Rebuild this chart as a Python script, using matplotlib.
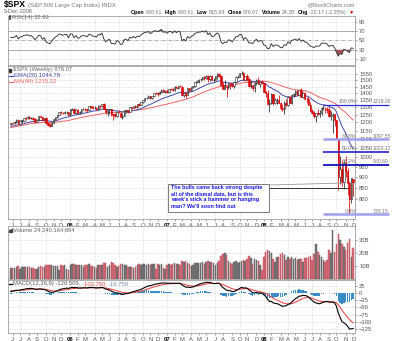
import numpy as np
import pandas as pd
import matplotlib
matplotlib.use("Agg")
import matplotlib.pyplot as plt
from matplotlib.lines import Line2D
from matplotlib.patches import Rectangle
from matplotlib.ticker import FuncFormatter, NullLocator
from matplotlib.transforms import blended_transform_factory

plt.rcParams['font.family'] = ['Liberation Sans', 'DejaVu Sans']

W, H = 400, 341

# Weekly S&P 500 bars, week ending Friday
first_friday = '2005-05-27'

# closes before the visible window, only used to warm up EMA / MA / RSI / MACD
warmup_closes = [1063.97, 1064.80, 1098.35, 1107.77, 1113.63, 1123.92, 1128.55,
                 1110.11, 1131.50, 1122.14, 1108.20, 1095.74, 1130.20, 1166.17,
                 1184.17, 1170.34, 1182.65, 1191.17, 1188.00, 1194.20, 1210.13,
                 1211.92, 1186.19, 1184.52, 1167.87, 1171.36, 1203.03, 1205.30,
                 1201.59, 1211.37, 1222.12, 1200.08, 1189.65, 1171.42, 1172.92,
                 1181.20, 1142.62, 1152.12, 1156.85, 1178.84, 1154.05, 1189.28]

opens = [
    # 2005
    1190, 1199, 1196, 1201, 1217, 1192, 1212, 1212, 1228, 1227, 1234, 1226,
    1230, 1220, 1205, 1218, 1241, 1238, 1215, 1229, 1196, 1187, 1180, 1198,
    1220, 1235, 1248, 1268, 1265, 1259, 1267, 1269,
    # 2006
    1248, 1285, 1288, 1261, 1284, 1264, 1267, 1287, 1289, 1287, 1281, 1307, 1303,
    1295, 1296, 1289, 1311, 1311, 1326, 1291, 1267, 1280, 1288, 1252, 1252, 1245,
    1270, 1265, 1236, 1240, 1279, 1279, 1267, 1302, 1295, 1311, 1299, 1320, 1315,
    1336, 1350, 1366, 1369, 1377, 1364, 1381, 1401, 1401, 1397, 1410, 1427, 1411,
    # 2007
    1418, 1410, 1431, 1430, 1422, 1448, 1438, 1455, 1451, 1387, 1403, 1387, 1436,
    1421, 1444, 1453, 1484, 1494, 1506, 1506, 1523, 1516, 1536, 1508, 1533, 1503,
    1503, 1530, 1552, 1534, 1459, 1433, 1454, 1446, 1479, 1474, 1454, 1484, 1526,
    1527, 1558, 1562, 1501, 1535, 1510, 1454, 1459, 1441, 1481, 1505, 1468, 1485,
    # 2008
    1479, 1412, 1401, 1325, 1331, 1395, 1331, 1350, 1353, 1331, 1293, 1288, 1330,
    1315, 1370, 1333, 1390, 1398, 1414, 1388, 1425, 1376, 1400, 1361, 1360, 1318,
    1278, 1263, 1240, 1261, 1258, 1260, 1296, 1298, 1292, 1283, 1242, 1252, 1255,
    1213, 1099, 899, 941, 877, 969, 931, 873, 800, 888.61]

highs = [
    1199, 1206, 1208, 1220, 1220, 1214, 1212, 1230, 1235, 1240, 1245, 1236,
    1233, 1226, 1222, 1244, 1243, 1238, 1232, 1233, 1200, 1197, 1200, 1223,
    1236, 1249, 1270, 1272, 1270, 1275, 1272, 1271,
    1288, 1295, 1294, 1286, 1287, 1275, 1291, 1293, 1298, 1290, 1310, 1311, 1310,
    1310, 1300, 1318, 1316, 1326, 1327, 1292, 1282, 1290, 1288, 1257, 1262, 1275,
    1281, 1271, 1261, 1280, 1285, 1283, 1303, 1304, 1312, 1314, 1322, 1329, 1340,
    1353, 1367, 1372, 1389, 1381, 1383, 1403, 1407, 1407, 1416, 1431, 1430, 1425,
    1430, 1433, 1441, 1440, 1452, 1453, 1457, 1461, 1457, 1410, 1409, 1438, 1438,
    1446, 1453, 1485, 1498, 1510, 1514, 1523, 1530, 1540, 1540, 1538, 1540, 1518,
    1532, 1556, 1555, 1540, 1488, 1504, 1456, 1482, 1482, 1481, 1486, 1530, 1538,
    1561, 1576, 1563, 1536, 1553, 1520, 1492, 1460, 1488, 1510, 1523, 1485, 1500,
    1479, 1418, 1428, 1355, 1405, 1396, 1368, 1363, 1389, 1336, 1322, 1341, 1360,
    1380, 1378, 1395, 1400, 1421, 1422, 1426, 1441, 1406, 1410, 1372, 1370, 1335,
    1291, 1273, 1263, 1290, 1284, 1300, 1313, 1301, 1304, 1304, 1274, 1265, 1255,
    1215, 1102, 1006, 985, 984, 1007, 942, 882, 897, 888.61]

lows = [
    1185, 1191, 1188, 1196, 1190, 1187, 1194, 1208, 1218, 1225, 1222, 1220,
    1215, 1201, 1201, 1217, 1227, 1210, 1212, 1191, 1176, 1169, 1175, 1198,
    1216, 1227, 1246, 1258, 1254, 1255, 1258, 1248,
    1246, 1280, 1260, 1255, 1262, 1253, 1260, 1281, 1276, 1268, 1280, 1298, 1291,
    1290, 1280, 1285, 1295, 1300, 1290, 1255, 1245, 1256, 1245, 1219, 1238, 1237,
    1262, 1235, 1225, 1240, 1265, 1261, 1266, 1290, 1293, 1294, 1297, 1311, 1314,
    1327, 1344, 1360, 1366, 1360, 1360, 1379, 1392, 1377, 1396, 1405, 1408, 1405,
    1405, 1399, 1426, 1416, 1420, 1437, 1431, 1447, 1383, 1374, 1364, 1386, 1413,
    1416, 1436, 1448, 1477, 1482, 1491, 1498, 1500, 1513, 1487, 1492, 1500, 1484,
    1503, 1506, 1529, 1458, 1433, 1429, 1370, 1432, 1432, 1450, 1439, 1477, 1516,
    1527, 1546, 1500, 1490, 1490, 1451, 1437, 1420, 1406, 1460, 1467, 1446, 1475,
    1411, 1372, 1313, 1270, 1320, 1317, 1320, 1325, 1330, 1284, 1274, 1257, 1312,
    1312, 1330, 1325, 1370, 1379, 1384, 1387, 1373, 1364, 1358, 1327, 1317, 1275,
    1257, 1228, 1200, 1248, 1234, 1248, 1280, 1264, 1262, 1236, 1215, 1134, 1180,
    1097, 839, 866, 858, 845, 899, 818, 741, 785, 815.69]

closes = [
    1198.8, 1196.0, 1200.9, 1216.9, 1191.6, 1211.9, 1211.9, 1227.9, 1227.0,
    1234.2, 1226.4, 1230.4, 1219.7, 1205.1, 1218.0, 1241.5, 1237.9, 1215.3,
    1228.8, 1195.9, 1186.6, 1179.6, 1198.4, 1220.1, 1234.7, 1248.3, 1268.3,
    1265.1, 1259.4, 1267.3, 1268.7, 1248.3,
    1285.5, 1287.6, 1261.5, 1283.7, 1264.0, 1266.9, 1287.2, 1289.4, 1287.2,
    1281.4, 1307.3, 1302.9, 1294.9, 1295.5, 1289.1, 1311.3, 1310.6, 1325.8,
    1291.2, 1267.0, 1280.2, 1288.2, 1252.3, 1251.5, 1244.5, 1270.2, 1265.5,
    1236.2, 1240.3, 1278.6, 1279.4, 1266.7, 1302.3, 1295.1, 1311.0, 1298.9,
    1319.7, 1314.8, 1335.9, 1349.6, 1365.6, 1368.6, 1377.3, 1364.3, 1380.9,
    1401.2, 1400.9, 1396.7, 1409.8, 1427.1, 1410.8, 1418.3,
    1409.7, 1430.7, 1430.5, 1422.2, 1448.4, 1438.1, 1455.5, 1451.2, 1387.2,
    1402.8, 1386.9, 1436.1, 1420.9, 1443.8, 1452.9, 1484.4, 1494.1, 1505.6,
    1505.9, 1522.8, 1515.7, 1536.3, 1507.7, 1532.9, 1502.6, 1503.4, 1530.4,
    1552.5, 1534.1, 1458.9, 1433.1, 1453.6, 1445.9, 1479.4, 1473.9, 1453.6,
    1484.3, 1525.8, 1526.8, 1557.6, 1561.8, 1500.6, 1535.3, 1509.7, 1453.7,
    1458.7, 1440.7, 1481.1, 1504.7, 1467.9, 1484.5, 1478.5,
    1411.6, 1401.0, 1325.2, 1330.6, 1395.4, 1331.3, 1349.9, 1353.1, 1330.6,
    1293.4, 1288.1, 1329.5, 1315.2, 1370.4, 1332.8, 1390.3, 1397.8, 1413.9,
    1388.3, 1425.4, 1375.9, 1400.4, 1360.7, 1360.0, 1317.9, 1278.4, 1262.9,
    1239.5, 1260.7, 1257.8, 1260.3, 1296.3, 1298.2, 1292.2, 1282.8, 1242.3,
    1251.7, 1255.1, 1213.3, 1099.2, 899.2, 940.6, 876.8, 968.8, 931.0, 873.3,
    800.0, 896.2, 876.07]

# weekly volume, billions of shares
volumes_bn = [
    8.2, 8.5, 8.8, 9.6, 9.8, 8.0, 8.9, 9.2, 9.4, 9.0, 9.3, 8.8, 8.5, 8.0,
    7.8, 9.4, 10.2, 9.6, 9.5, 10.8, 10.4, 11.0, 10.6, 10.2, 9.8, 10.0, 7.2,
    10.5, 10.3, 10.9, 7.5, 6.8,
    10.8, 11.2, 11.5, 10.9, 11.0, 10.8, 10.5, 9.4, 10.6, 10.9, 11.8, 10.2,
    10.0, 9.6, 8.8, 10.6, 10.4, 11.0, 12.6, 12.0, 9.2, 10.8, 12.8, 12.2,
    10.6, 9.4, 9.8, 11.2, 11.4, 10.8, 10.4, 9.6, 9.2, 9.0, 8.6, 9.6, 10.8,
    11.4, 10.9, 11.2, 11.6, 11.0, 11.4, 10.8, 11.2, 11.6, 8.0, 11.2, 11.0,
    11.6, 8.2, 7.4,
    10.6, 11.4, 11.0, 11.4, 12.0, 11.2, 11.6, 11.0, 14.2, 12.8, 13.6, 12.0,
    11.2, 9.8, 10.8, 12.0, 12.4, 12.2, 12.6, 12.8, 11.4, 13.0, 14.2, 13.2,
    12.8, 12.4, 10.8, 12.6, 13.6, 17.6, 19.0, 20.4, 18.8, 13.8, 12.2, 11.8,
    12.8, 13.6, 12.4, 13.0, 13.6, 15.0, 13.8, 15.6, 17.8, 16.4, 11.8, 15.2,
    14.4, 13.6, 10.6, 6.8,
    16.8, 20.6, 22.0, 21.4, 19.8, 15.6, 13.2, 16.8, 17.0, 19.0, 20.2, 18.4,
    15.0, 16.6, 15.2, 16.8, 15.4, 15.8, 14.8, 15.6, 15.2, 12.8, 16.2, 15.8,
    17.2, 17.8, 14.6, 19.4, 26.8, 20.6, 18.4, 17.2, 15.0, 13.2, 14.6, 22.0,
    20.0, 38.0, 21.0, 27.0, 35.0, 30.0, 27.0, 25.0, 22.0, 28.0, 31.0, 17.0,
    24.24]

fib_pcts = ['100.0%', '61.8%', '50.0%', '38.2%', '0.0%']
fib_values = [1319.09, 1097.55, 1029.12, 960.69, 739.15]

price_ticks = list(range(800, 1551, 50))
rsi_ticks = [10, 30, 50, 70, 90]
vol_ticks = [10, 20, 30]
macd_ticks = [25, 0, -25, -50, -75, -100, -125]

header_stats = [('Open', '888.61'), ('High', '888.61'), ('Low', '815.69'),
                ('Close', '876.07'), ('Volume', '24.2B'), ('Chg', '-20.17 (-2.25%)')]
ema_label = 'EMA(20) 1044.78'
ma_label = 'MA(40) 1215.22'
rsi_label = 'RSI(14) 32.93'
vol_label = 'Volume 24,240,164,864'
macd_parts = [('MACD(12,26,9) -120.509,', '#555555'), ('-103.750,', '#ee4444'),
              ('-16.759', '#7a8fb0')]
note = ("The bulls came back strong despite\n"
        "all of the dismal data, but is this\n"
        "week's stick a hammer or hanging\n"
        "man? We'll soon find out")

# ---- indicators ----
n = len(closes)
n0 = len(warmup_closes)
all_close = pd.Series(warmup_closes + closes, dtype=float)
ema20 = all_close.ewm(span=20, adjust=False).mean().values[n0:]
ma40 = all_close.rolling(40).mean().values[n0:]
macd = all_close.ewm(span=12, adjust=False).mean() - all_close.ewm(span=26, adjust=False).mean()
signal = macd.ewm(span=9, adjust=False).mean()
hist = (macd - signal).values[n0:]
macd = macd.values[n0:]
signal = signal.values[n0:]
delta = all_close.diff().fillna(0)
gain = delta.clip(lower=0).ewm(alpha=1 / 14, adjust=False).mean()
loss = (-delta.clip(upper=0)).ewm(alpha=1 / 14, adjust=False).mean()
rsi = (100 - 100 / (1 + gain / loss)).values[n0:]

o = np.array(opens, float)
hi = np.array(highs, float)
lo = np.array(lows, float)
c = np.array(closes, float)
prev = np.array([warmup_closes[-1]] + closes[:-1])
down = c < prev
x = np.arange(n)

dates = pd.date_range(first_friday, periods=n, freq='W-FRI')
month_idx = [i for i in range(1, n) if dates[i].month != dates[i - 1].month]
month_lbl = ['%02d' % (dates[i].year % 100) if dates[i].month == 1
             else 'JFMAMJJASOND'[dates[i].month - 1] for i in month_idx]
quarter_idx = [i for i in month_idx if dates[i].month in (1, 4, 7, 10)]

# ---- layout (pixel based) ----
fig = plt.figure(figsize=(W / 100, H / 100), dpi=100)
L, R = 8, 355


def panel(top, bottom):
    return fig.add_axes([L / W, 1 - bottom / H, (R - L) / W, (bottom - top) / H])


def fxy(px, py):
    return px / W, 1 - py / H


GRID = dict(color='#cdcdcd', lw=0.5, ls=(0, (1, 1.5)))


def style(ax, show_x):
    for s in ax.spines.values():
        s.set_color('#a0a0a0')
        s.set_linewidth(0.6)
    ax.yaxis.tick_right()
    ax.set_xlim(-1.5, n)
    ax.set_xticks(month_idx)
    ax.tick_params(axis='both', labelsize=4.2, colors='#555555', length=1.5,
                   width=0.4, pad=1.5)
    if show_x:
        ax.set_xticklabels(month_lbl)
        for t in ax.get_xticklabels():
            if t.get_text().isdigit():
                t.set_fontweight('bold')
                t.set_color('black')
    else:
        ax.tick_params(axis='x', length=0, labelbottom=False)
    for i in quarter_idx:
        ax.axvline(i, zorder=0, **GRID)
    ax.yaxis.grid(True, zorder=0, **GRID)
    ax.set_axisbelow(True)


ax_rsi = panel(15.5, 65)
ax_px = panel(66, 219)
ax_vol = panel(226, 279)
ax_macd = panel(280, 333)

# RSI
style(ax_rsi, False)
ax_rsi.set_ylim(-3, 104)
ax_rsi.set_yticks(rsi_ticks)
ax_rsi.yaxis.grid(False)
for lvl in (10, 90):
    ax_rsi.axhline(lvl, zorder=0, **GRID)
for lvl in (30, 70):
    ax_rsi.axhline(lvl, color='#a0a0a0', lw=0.6, zorder=1)
ax_rsi.axhline(50, color='#a0a0a0', lw=0.6, ls=(0, (4, 1.5, 1, 1.5)), zorder=1)
ax_rsi.fill_between(x, rsi, 30, where=rsi < 30, interpolate=True, color='#a65454', lw=0, zorder=2)
ax_rsi.fill_between(x, rsi, 70, where=rsi > 70, interpolate=True, color='#a65454', lw=0, zorder=2)
ax_rsi.plot(x, rsi, color='#333333', lw=0.65, zorder=3)

# price candles on a log scale
style(ax_px, True)
ax_px.set_yscale('log')
ax_px.set_ylim(721, 1617)
ax_px.set_yticks(price_ticks)
ax_px.yaxis.set_minor_locator(NullLocator())
ax_px.yaxis.set_major_formatter(FuncFormatter(lambda v, p: '%d' % v))
ax_px.xaxis.set_minor_locator(NullLocator())
edge = np.where(down, '#dd0000', '#222222')
face = np.where(c < o, edge, 'white')
ax_px.vlines(x, lo, hi, colors=edge, lw=0.55, zorder=3)
body_lo = np.minimum(o, c)
body_h = np.maximum(np.abs(c - o), 1.5)
ax_px.bar(x, body_h, bottom=body_lo, width=0.78, color=face, edgecolor=edge,
          linewidth=0.4, zorder=4)
ax_px.plot(x, ma40, color='#f06464', lw=0.7, zorder=2)
ax_px.plot(x, ema20, color='#4646a8', lw=0.7, zorder=2)

# Fibonacci levels drawn past the right edge
trans = blended_transform_factory(ax_px.transAxes, ax_px.transData)
fx0, fx1 = (323 - L) / (R - L), (389 - L) / (R - L)
fx_pct = (356.5 - L) / (R - L)
fx_val = (373 - L) / (R - L)
fib_style = [('#2a2ae0', 0.9), ('#a0a0ee', 1.8), ('#1010c8', 1.1), ('#0000b8', 1.2),
             ('#a0a0ee', 1.8)]
for pct, val, (col, lw) in zip(fib_pcts, fib_values, fib_style):
    ax_px.plot([fx0, fx1], [val, val], transform=trans, color=col, lw=lw,
               clip_on=False, solid_capstyle='butt', zorder=5)
    ax_px.text(fx_pct, val * 1.004, pct, transform=trans, ha='right', va='bottom',
               fontsize=3.7, color='#777777', clip_on=False, zorder=6)
    ax_px.text(fx_val, val * 1.004, '%.2f' % val, transform=trans, ha='left',
               va='bottom', fontsize=3.7, color='#777777', clip_on=False, zorder=6)

# volume
style(ax_vol, False)
vols = np.array(volumes_bn)
ax_vol.bar(x, vols, width=0.8, color=np.where(down, '#d9707c', '#7a7a7a'),
           edgecolor=np.where(down, '#b84050', '#555555'), linewidth=0.3, zorder=3)
ax_vol.set_ylim(0, 40.8)
ax_vol.set_yticks(vol_ticks)
ax_vol.yaxis.set_major_formatter(FuncFormatter(lambda v, p: '%dB' % v))

# MACD
style(ax_macd, True)
ax_macd.bar(x, hist, width=0.8, color='#3a8cc7', zorder=2)
ax_macd.plot(x, signal, color='#ee3a3a', lw=0.7, zorder=3)
ax_macd.plot(x, macd, color='black', lw=0.8, zorder=4)
ax_macd.set_ylim(-139, 45)
ax_macd.set_yticks(macd_ticks)

# ---- texts ----
renderer = fig.canvas.get_renderer()


def run(px, py, pieces, size=4.2):
    for s, col, wt, gap in pieces:
        t = fig.text(*fxy(px, py), s, fontsize=size, color=col, fontweight=wt,
                     ha='left', va='center')
        px += t.get_window_extent(renderer).width + gap
    return px


t = fig.text(*fxy(4, 5), '$SPX', fontsize=6.2, fontweight='bold', color='black',
             va='center')
run(4 + t.get_window_extent(renderer).width + 2, 5.3,
    [('(S&P 500 Large Cap Index) INDX', '#777777', 'normal', 0)])
fig.text(*fxy(4, 11.5), '5-Dec-2008', fontsize=4.0, color='#666666', va='center')
fig.text(*fxy(355, 4.5), '@StockCharts.com', fontsize=4.0, color='#777777',
         ha='right', va='center')
pieces = []
for k, v in header_stats:
    pieces += [(k, 'black', 'bold', 1.2), (v, '#777777', 'normal', 2.5)]
pieces.append(('\u25bc', '#cc0000', 'normal', 0))
run(131, 12.5, pieces, size=3.75)

# panel legends
fig.add_artist(Line2D([9.5 / W, 9.5 / W], [1 - 18.5 / H, 1 - 15.5 / H], color='#333333', lw=1.2))
run(12, 17, [(rsi_label, '#666666', 'normal', 0)])

fig.add_artist(Rectangle(fxy(9, 71.5), 2 / W, 3 / H, color='#333333'))
run(13, 70, [('$SPX (Weekly) 876.07', '#666666', 'normal', 0)])
fig.add_artist(Line2D([9 / W, 13 / W], [1 - 76 / H] * 2, color='#4646a8', lw=0.8))
run(14, 76, [(ema_label, '#4646a8', 'normal', 0)])
fig.add_artist(Line2D([9 / W, 13 / W], [1 - 82 / H] * 2, color='#f06464', lw=0.8))
run(14, 82, [(ma_label, '#f06464', 'normal', 0)])

fig.add_artist(Rectangle(fxy(9, 232), 1 / W, 2.5 / H, color='#444444'))
fig.add_artist(Rectangle(fxy(10.5, 232), 1 / W, 3.5 / H, color='#444444'))
run(13, 230, [(vol_label, '#666666', 'normal', 0)])

fig.add_artist(Line2D([9 / W, 12 / W], [1 - 284 / H] * 2, color='black', lw=0.9))
run(13, 284, [(s, col, 'normal', 2) for s, col in macd_parts])

# callout box and its pointer
fig.add_artist(Rectangle(fxy(168, 212), 101 / W, 28 / H, facecolor='white',
                         edgecolor='#666666', lw=0.6, zorder=8))
fig.text(*fxy(171, 185.5), note, fontsize=3.9, color='#1515e0', fontweight='bold',
         va='top', ha='left', linespacing=1.25, zorder=9)
fig.add_artist(Line2D([269 / W, 345 / W], [1 - 185 / H, 1 - 183 / H], color='#999999', lw=0.6))
fig.add_artist(Line2D([269 / W, 348 / W], [1 - 188 / H, 1 - 188 / H], color='#333333', lw=0.7))

fig.savefig('out.png', dpi=100)
